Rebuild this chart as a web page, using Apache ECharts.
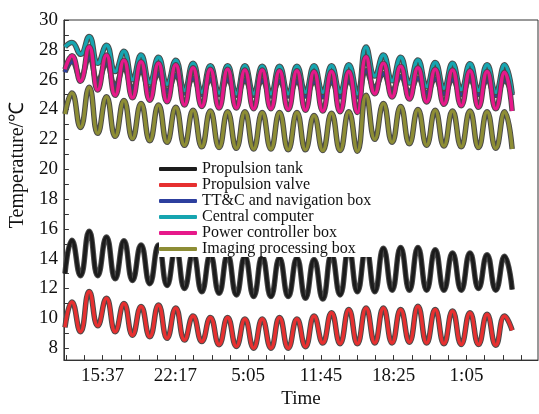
<!DOCTYPE html>
<html>
<head>
<meta charset="utf-8">
<script src="https://cdn.jsdelivr.net/npm/echarts@6/dist/echarts.min.js"></script>
<style>
  html, body { margin: 0; padding: 0; background: #fff; }
  #chart { width: 539px; height: 414px; }
</style>
</head>
<body>
<div id="chart"></div>
<script>
// sample times, minutes after 15:37 (peaks and troughs of the orbit cycle)
var times = [-207, -169, -122, -74, -27, 21, 69, 117, 164, 211, 259, 307, 354, 402, 450, 497,
  545, 592, 640, 687, 735, 782, 830, 877, 925, 972, 1020, 1068, 1115, 1162, 1210, 1258, 1305,
  1353, 1400, 1448, 1496, 1543, 1591, 1638, 1686, 1733, 1781, 1828, 1876, 1923, 1971, 2019,
  2066, 2113, 2161, 2209, 2251];

var tickLabels = ['15:37', '22:17', '5:05', '11:45', '18:25', '1:05'];
var labelPos = [0, 400, 800, 1200, 1600, 2000];
var tickPos = [-200, -100, 0, 100, 200, 300, 400, 500, 600, 700, 800, 900, 1000, 1100, 1200,
  1300, 1400, 1500, 1600, 1700, 1800, 1900, 2000, 2100, 2200, 2300];
var yLabels = [8, 10, 12, 14, 16, 18, 20, 22, 24, 26, 28, 30];
var yTicks = [8, 9, 10, 11, 12, 13, 14, 15, 16, 17, 18, 19, 20, 21, 22, 23, 24, 25, 26, 27, 28, 29, 30];

var names = ['Propulsion tank', 'Propulsion valve', 'TT&C and navigation box',
  'Central computer', 'Power controller box', 'Imaging processing box'];
var colors = ['#1c1c1c', '#e63030', '#2d3f9e', '#16a5b0', '#e6198a', '#8d8d35'];

var tank = [13.0, 15.24, 12.86, 15.83, 12.86, 15.46, 12.65, 15.2, 12.54, 14.92, 12.32, 14.92, 12.2,
  14.75, 12.0, 14.38, 11.78, 14.27, 11.68, 14.27, 11.57, 14.16, 11.46, 14.16, 11.46, 14.05, 11.46,
  14.05, 11.35, 13.95, 11.29, 14.31, 11.57, 14.66, 11.78, 14.7, 11.78, 14.7, 11.89, 14.75, 11.89,
  14.75, 11.89, 14.6, 11.89, 14.38, 11.89, 14.38, 12.0, 14.27, 11.89, 14.16, 11.93];
var valve = [9.4, 11.1, 9.1, 11.8, 9.5, 11.35, 9.1, 11.0, 8.87, 10.8, 8.76, 10.9, 8.66,
  10.7, 8.55, 10.16, 8.44, 10.06, 8.23, 10.06, 8.12, 9.95, 8.0, 9.95, 8.0, 10.06, 8.0,
  9.95, 8.1, 10.16, 8.35, 10.38, 8.3, 10.59, 8.3, 10.7, 8.35, 10.7, 8.35, 10.59, 8.4,
  10.81, 8.35, 10.59, 8.3, 10.49, 8.25, 10.38, 8.25, 10.27, 8.2, 10.16, 9.19];
var ttc = [26.5, 27.2, 26.2, 27.5, 25.9, 27.1, 25.6, 26.8, 25.4, 26.6, 25.3, 26.4, 25.2,
  26.3, 25.1, 26.1, 25.0, 26.0, 25.0, 26.0, 24.95, 25.95, 24.95, 25.95, 24.9, 25.9, 24.9,
  25.9, 24.9, 25.85, 24.85, 25.85, 24.85, 25.9, 24.85, 26.6, 25.5, 26.4, 25.3, 26.2, 25.2,
  26.1, 25.1, 26.05, 25.05, 26.0, 25.0, 26.0, 25.0, 25.95, 24.95, 25.95, 24.95];
var computer = [28.2, 28.5, 27.7, 28.9, 27.1, 28.3, 26.55, 27.9, 26.0, 27.65, 25.8, 27.5, 25.7,
  27.3, 25.27, 27.1, 25.16, 26.93, 25.1, 26.93, 25.05, 26.93, 25.05, 26.9, 25.05, 26.9, 25.05,
  26.9, 25.16, 26.93, 25.16, 26.93, 25.16, 27.0, 25.05, 28.19, 26.24, 27.65, 25.92, 27.5, 25.77,
  27.32, 25.55, 27.15, 25.42, 27.1, 25.34, 27.06, 25.27, 27.0, 25.16, 27.0, 25.05];
var power = [26.7, 27.6, 25.9, 28.2, 25.3, 27.65, 24.95, 27.3, 24.78, 27.2, 24.62, 27.1, 24.52,
  27.0, 24.3, 26.8, 24.2, 26.7, 24.1, 26.7, 24.1, 26.65, 24.05, 26.65, 24.05, 26.6, 24.0,
  26.6, 23.95, 26.55, 23.9, 26.55, 23.85, 26.55, 23.8, 27.54, 25.06, 27.1, 24.84, 26.9, 24.7,
  26.8, 24.5, 26.7, 24.35, 26.65, 24.25, 26.6, 24.15, 26.55, 24.05, 26.5, 23.9];
var imaging = [23.7, 25.1, 22.8, 25.5, 22.4, 24.85, 22.2, 24.6, 22.05, 24.4, 21.9, 24.3, 21.8,
  24.15, 21.6, 23.95, 21.5, 23.9, 21.45, 23.85, 21.4, 23.85, 21.35, 23.8, 21.35, 23.8, 21.3,
  23.8, 21.3, 23.6, 21.25, 23.75, 21.25, 23.85, 21.2, 24.95, 22.0, 24.4, 21.8, 24.2, 21.7,
  24.0, 21.6, 23.95, 21.55, 23.9, 21.5, 23.9, 21.45, 23.85, 21.4, 23.85, 21.35];

var values = [tank, valve, ttc, computer, power, imaging];
var serif = 'Liberation Serif';

function pairs(vals) {
  return times.map(function (t, i) { return [t, vals[i]]; });
}

var series = [];
values.forEach(function (vals, i) {
  // dark edge under each curve
  series.push({
    type: 'line', data: pairs(vals), smooth: 0.5, showSymbol: false, silent: true,
    lineStyle: { color: '#4a4a4a', width: 5.5 }
  });
  series.push({
    name: names[i], type: 'line', data: pairs(vals), smooth: 0.5, showSymbol: false,
    color: colors[i], lineStyle: { color: colors[i], width: 3.5 }
  });
});

var chart = echarts.init(document.getElementById('chart'));
chart.setOption({
  animation: false,
  grid: { left: 60, right: 1, top: 20, bottom: 39, show: true, borderColor: '#333', borderWidth: 1 },
  legend: {
    data: names, orient: 'vertical', left: 159, top: 161, padding: [0, 2, 0, 0],
    backgroundColor: '#fff',
    icon: 'roundRect', itemWidth: 38, itemHeight: 4, itemGap: 0,
    textStyle: { fontFamily: serif, fontSize: 16, lineHeight: 15, color: '#111' }
  },
  xAxis: {
    type: 'value', min: -213, max: 2393,
    name: 'Time', nameLocation: 'middle', nameGap: 27,
    nameTextStyle: { fontFamily: serif, fontSize: 19, color: '#111' },
    axisLine: { onZero: false, lineStyle: { color: '#333' } },
    axisTick: { inside: true, length: 5, customValues: tickPos, lineStyle: { color: '#333' } },
    axisLabel: {
      customValues: labelPos, margin: 6, fontFamily: serif, fontSize: 19, color: '#111',
      formatter: function (v) { return tickLabels[labelPos.indexOf(v)]; }
    },
    splitLine: { show: false }
  },
  yAxis: {
    type: 'value', min: 7.2, max: 30,
    name: 'Temperature/℃', nameLocation: 'middle', nameGap: 35, nameRotate: 90,
    nameTextStyle: { fontFamily: serif, fontSize: 20, color: '#111', padding: [0, 0, 0, 50] },
    axisLine: { show: true, onZero: false, lineStyle: { color: '#333' } },
    axisTick: { inside: true, length: 5, customValues: yTicks, lineStyle: { color: '#333' } },
    axisLabel: { customValues: yLabels, margin: 6, fontFamily: serif, fontSize: 19, color: '#111' },
    splitLine: { show: false }
  },
  series: series
});
</script>
</body>
</html>
